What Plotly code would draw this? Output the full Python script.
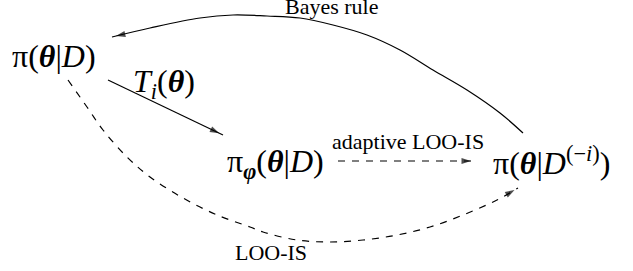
import plotly.graph_objects as go

# ---- data (pixel-space diagram coordinates) ----
node_labels = [
    "π(<b><i>θ</i></b>|<i>D</i>)",
    "π<sub><b><i>φ</i></b></sub>(<b><i>θ</i></b>|<i>D</i>)",
    "π(<b><i>θ</i></b>|<i>D</i><sup>(−<i>i</i>)</sup>)",
]
node_x = [54, 275, 551]
node_y = [56, 163, 161]

edge_labels = ["<i>T<sub>i</sub></i>(<b><i>θ</i></b>)", "adaptive LOO-IS", "Bayes rule", "LOO-IS"]
edge_label_x = [164, 408, 331, 271]
edge_label_y = [83, 141, 6, 252]
edge_label_size = [32, 22, 22, 22]

# edge waypoints
ti_x = [108, 223]
ti_y = [80, 135]
ada_x = [338, 475]
ada_y = [161, 161]
bayes_x = [523, 500, 467, 433, 400, 367, 333, 300, 267, 233, 200, 150, 112]
bayes_y = [133, 113, 90, 70, 50, 35, 25, 18, 16, 15, 18, 28, 37]
loo_x = [68, 87, 103, 127, 150, 183, 217, 250, 263, 297, 330, 363, 397, 430, 463, 497, 518]
loo_y = [80, 107, 130, 157, 177, 198, 215, 227, 232, 240, 242, 240, 235, 227, 215, 200, 188]

edges = [
    (ti_x, ti_y, "solid", "linear"),
    (ada_x, ada_y, "7px,7px", "linear"),
    (bayes_x, bayes_y, "solid", "spline"),
    (loo_x, loo_y, "7px,7px", "spline"),
]

W, H = 633, 271
FONT = "Liberation Serif, DejaVu Serif, serif"
HEAD = 10

fig = go.Figure()
for xs, ys, dash, shape in edges:
    fig.add_trace(go.Scatter(
        x=xs, y=ys, mode="lines",
        line=dict(color="black", width=1.2, dash=dash, shape=shape),
        hoverinfo="skip", showlegend=False,
    ))
    # arrowhead at the end, oriented along final segment
    dx, dy = xs[-1] - xs[-2], ys[-1] - ys[-2]
    n = (dx * dx + dy * dy) ** 0.5
    mx = xs[-1] - 0.4 * HEAD * dx / n
    my = ys[-1] - 0.4 * HEAD * dy / n
    fig.add_trace(go.Scatter(
        x=[xs[-2], mx], y=[ys[-2], my], mode="markers",
        marker=dict(symbol="arrow", size=[0, HEAD], angleref="previous",
                    color="black", line=dict(width=0)),
        hoverinfo="skip", showlegend=False,
    ))

for lab, x, y in zip(node_labels, node_x, node_y):
    fig.add_annotation(x=x, y=y, text=lab, showarrow=False,
                       xanchor="center", yanchor="middle",
                       font=dict(family=FONT, size=32, color="black"))

for lab, x, y, s in zip(edge_labels, edge_label_x, edge_label_y, edge_label_size):
    fig.add_annotation(x=x, y=y, text=lab, showarrow=False,
                       xanchor="center", yanchor="middle",
                       font=dict(family=FONT, size=s, color="black"))

fig.update_layout(
    width=W, height=H,
    margin=dict(l=0, r=0, t=0, b=0),
    paper_bgcolor="white", plot_bgcolor="white",
    xaxis=dict(range=[0, W], visible=False, fixedrange=True),
    yaxis=dict(range=[H, 0], visible=False, fixedrange=True),
)
fig.write_html(
    "out.html",
    config={"displayModeBar": False},
    post_script="document.body.style.margin='0';document.body.style.overflow='hidden';",
)
